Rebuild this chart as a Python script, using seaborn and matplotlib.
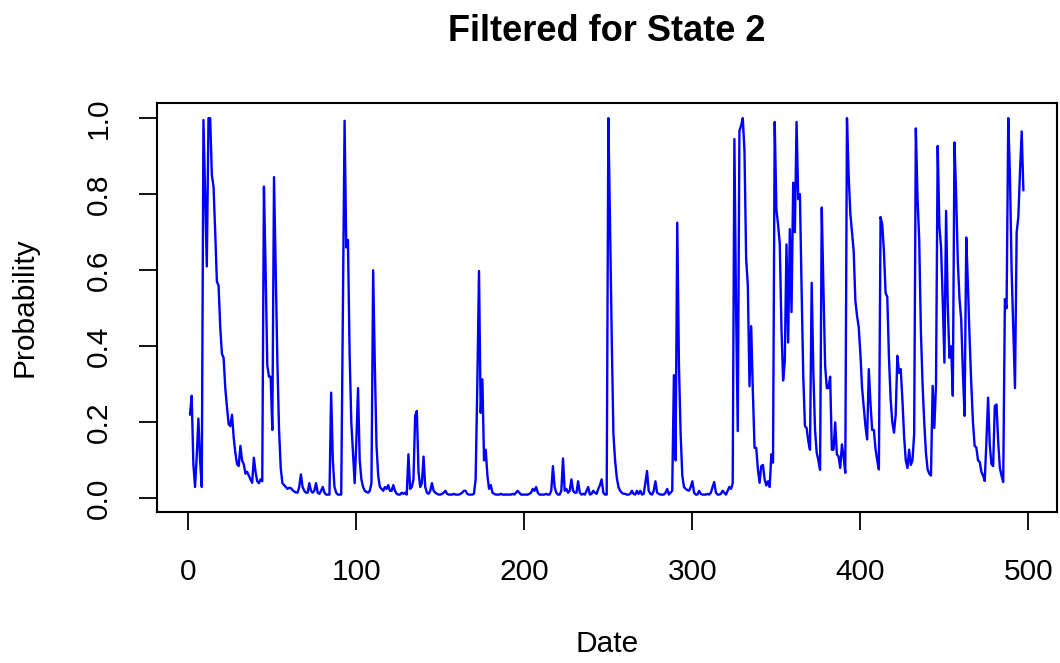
import numpy as np
import pandas as pd
import matplotlib
matplotlib.use('Agg')
import matplotlib.pyplot as plt
import seaborn as sns

# filtered probability of state 2 in blocks of 100 dates
p_001_100 = [0.22, 0.27, 0.09, 0.03, 0.11, 0.21, 0.10, 0.03, 0.995, 0.80,
             0.61, 1.0, 1.0, 0.85, 0.82, 0.70, 0.57, 0.56, 0.45, 0.38,
             0.37, 0.29, 0.24, 0.195, 0.19, 0.22, 0.16, 0.12, 0.09, 0.085,
             0.138, 0.10, 0.09, 0.065, 0.07, 0.06, 0.05, 0.041, 0.107, 0.07,
             0.045, 0.04, 0.05, 0.045, 0.82, 0.60, 0.35, 0.32, 0.32, 0.18,
             0.845, 0.60, 0.36, 0.18, 0.08, 0.04, 0.035, 0.03, 0.025, 0.028,
             0.027, 0.022, 0.018, 0.016, 0.015, 0.03, 0.063, 0.03, 0.02, 0.015,
             0.015, 0.04, 0.02, 0.015, 0.02, 0.04, 0.015, 0.012, 0.02, 0.03,
             0.015, 0.01, 0.01, 0.01, 0.278, 0.10, 0.03, 0.015, 0.01, 0.01,
             0.01, 0.50, 0.993, 0.66, 0.68, 0.38, 0.20, 0.12, 0.04, 0.15]
p_101_200 = [0.29, 0.10, 0.05, 0.03, 0.02, 0.017, 0.015, 0.02, 0.04, 0.60,
             0.35, 0.14, 0.06, 0.03, 0.025, 0.02, 0.03, 0.025, 0.035, 0.02,
             0.02, 0.035, 0.02, 0.012, 0.01, 0.01, 0.015, 0.012, 0.015, 0.01,
             0.116, 0.025, 0.03, 0.05, 0.217, 0.23, 0.07, 0.03, 0.04, 0.11,
             0.03, 0.015, 0.012, 0.02, 0.04, 0.02, 0.015, 0.012, 0.01, 0.01,
             0.012, 0.015, 0.02, 0.012, 0.01, 0.01, 0.01, 0.012, 0.01, 0.01,
             0.01, 0.012, 0.015, 0.02, 0.02, 0.012, 0.01, 0.01, 0.01, 0.012,
             0.05, 0.30, 0.598, 0.225, 0.313, 0.10, 0.128, 0.06, 0.025, 0.035,
             0.015, 0.012, 0.01, 0.01, 0.01, 0.012, 0.01, 0.01, 0.01, 0.01,
             0.01, 0.01, 0.012, 0.01, 0.015, 0.02, 0.015, 0.01, 0.01, 0.01]
p_201_300 = [0.01, 0.01, 0.012, 0.015, 0.025, 0.02, 0.03, 0.015, 0.01, 0.01,
             0.01, 0.01, 0.012, 0.01, 0.01, 0.02, 0.085, 0.03, 0.015, 0.01,
             0.01, 0.02, 0.105, 0.02, 0.025, 0.015, 0.02, 0.05, 0.02, 0.015,
             0.015, 0.045, 0.015, 0.01, 0.012, 0.01, 0.02, 0.03, 0.01, 0.012,
             0.02, 0.015, 0.012, 0.025, 0.035, 0.05, 0.015, 0.01, 0.01, 1.0,
             0.72, 0.42, 0.17, 0.10, 0.055, 0.03, 0.02, 0.015, 0.012, 0.012,
             0.01, 0.01, 0.012, 0.02, 0.012, 0.01, 0.02, 0.012, 0.02, 0.01,
             0.012, 0.04, 0.072, 0.02, 0.012, 0.01, 0.02, 0.045, 0.015, 0.012,
             0.01, 0.01, 0.01, 0.015, 0.025, 0.01, 0.015, 0.02, 0.324, 0.10,
             0.725, 0.35, 0.17, 0.06, 0.03, 0.025, 0.022, 0.02, 0.03, 0.045]
p_301_400 = [0.015, 0.01, 0.01, 0.02, 0.012, 0.01, 0.01, 0.01, 0.012, 0.01,
             0.015, 0.03, 0.043, 0.015, 0.01, 0.01, 0.012, 0.02, 0.015, 0.01,
             0.02, 0.03, 0.025, 0.04, 0.945, 0.50, 0.177, 0.967, 0.98, 1.0,
             0.914, 0.63, 0.56, 0.295, 0.453, 0.28, 0.133, 0.133, 0.076, 0.041,
             0.085, 0.088, 0.05, 0.034, 0.045, 0.03, 0.116, 0.094, 0.99, 0.76,
             0.72, 0.67, 0.45, 0.31, 0.36, 0.668, 0.41, 0.708, 0.49, 0.83,
             0.70, 0.99, 0.787, 0.80, 0.55, 0.32, 0.19, 0.185, 0.15, 0.128,
             0.567, 0.33, 0.18, 0.12, 0.10, 0.075, 0.765, 0.55, 0.35, 0.29,
             0.29, 0.32, 0.128, 0.128, 0.20, 0.116, 0.11, 0.08, 0.142, 0.11,
             0.067, 1.0, 0.85, 0.75, 0.70, 0.65, 0.52, 0.48, 0.45, 0.38]
p_401_497 = [0.29, 0.24, 0.19, 0.155, 0.34, 0.25, 0.18, 0.18, 0.13, 0.10,
             0.076, 0.74, 0.72, 0.65, 0.54, 0.53, 0.37, 0.26, 0.20, 0.173,
             0.22, 0.375, 0.33, 0.34, 0.26, 0.164, 0.10, 0.08, 0.128, 0.088,
             0.10, 0.17, 0.973, 0.79, 0.68, 0.44, 0.30, 0.20, 0.12, 0.076,
             0.065, 0.06, 0.296, 0.185, 0.30, 0.927, 0.717, 0.66, 0.52, 0.357,
             0.756, 0.506, 0.37, 0.40, 0.27, 0.936, 0.795, 0.62, 0.524, 0.47,
             0.33, 0.217, 0.686, 0.56, 0.42, 0.30, 0.20, 0.138, 0.134, 0.10,
             0.096, 0.07, 0.06, 0.046, 0.15, 0.265, 0.14, 0.09, 0.085, 0.243,
             0.247, 0.15, 0.08, 0.06, 0.043, 0.524, 0.50, 1.0, 0.85, 0.60,
             0.44, 0.29, 0.70, 0.74, 0.86, 0.965, 0.81]

x_ticks = [0, 100, 200, 300, 400, 500]
y_ticks = [0.0, 0.2, 0.4, 0.6, 0.8, 1.0]
y_tick_labels = ['0.0', '0.2', '0.4', '0.6', '0.8', '1.0']

prob = p_001_100 + p_101_200 + p_201_300 + p_301_400 + p_401_497
df = pd.DataFrame({'Date': np.arange(1, len(prob) + 1), 'Probability': prob})

sns.set_style('white')
plt.rcParams['font.family'] = ['Liberation Sans', 'DejaVu Sans']
plt.rcParams['text.color'] = 'black'
plt.rcParams['axes.labelcolor'] = 'black'

fig = plt.figure(figsize=(10.6, 6.63), dpi=100)
ax = fig.add_axes([0.1478, 0.2282, 0.8491, 0.616])
sns.lineplot(data=df, x='Date', y='Probability', color='blue', linewidth=1.7, ax=ax)

# R style 4% padding around the data
n = len(prob)
xpad = 0.04 * (n - 1)
ax.set_xlim(1 - xpad, n + xpad)
ax.set_ylim(-0.035, 1.039)

ax.set_xticks(x_ticks)
ax.set_xticklabels([str(t) for t in x_ticks])
ax.set_yticks(y_ticks)
ax.set_yticklabels(y_tick_labels, rotation=90, va='center')
ax.tick_params(axis='both', direction='out', length=13, width=1.3, color='black',
               labelsize=21.5, labelcolor='black', left=True, bottom=True)
ax.tick_params(axis='x', pad=20.4)
ax.tick_params(axis='y', pad=18.3)
for s in ax.spines.values():
    s.set_color('black')
    s.set_linewidth(1.5)

ax.set_xlabel('Date', fontsize=21.5, va='center', color='black')
ax.xaxis.set_label_coords(0.5, -0.324)
ax.set_ylabel('Probability', fontsize=21.5, va='center', color='black')
ax.yaxis.set_label_coords(-0.1463, 0.5)

fig.text(0.5724, 0.9382, 'Filtered for State 2', ha='center', va='baseline',
         fontsize=26, fontweight='bold', color='black')

fig.savefig('out.png', dpi=100)
